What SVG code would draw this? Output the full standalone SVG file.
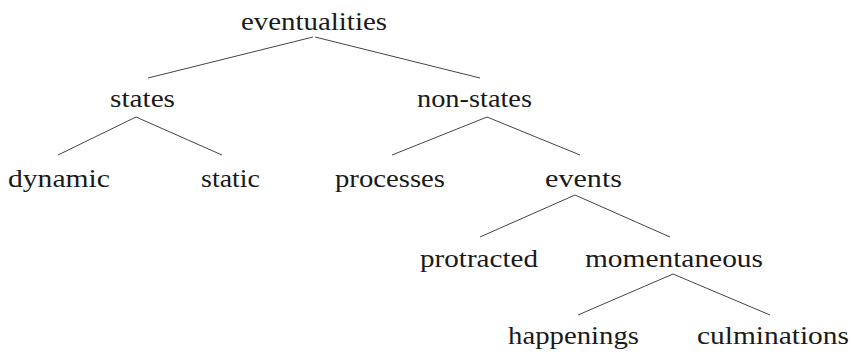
<svg xmlns="http://www.w3.org/2000/svg" width="851" height="354" viewBox="0 0 851 354">
<style>
text { font-family: "Liberation Serif", "DejaVu Serif", serif; font-size: 26px; fill: #1a1a1a; }
.c line { stroke: #444; stroke-width: 1; }
</style>
<rect width="851" height="354" fill="#fff"/>
<g class="c" id="connectors">
<line x1="313" y1="37" x2="148" y2="78"/>
<line x1="315" y1="37" x2="480" y2="78"/>
<line x1="136" y1="117" x2="58" y2="155"/>
<line x1="136" y1="117" x2="222" y2="155"/>
<line x1="487" y1="117" x2="392" y2="155"/>
<line x1="487" y1="117" x2="580" y2="155"/>
<line x1="575" y1="195" x2="480" y2="237"/>
<line x1="575" y1="195" x2="670" y2="237"/>
<line x1="673" y1="274" x2="578" y2="315"/>
<line x1="673" y1="274" x2="770" y2="315"/>
</g>
<g id="eventualities"><text x="241" y="30" textLength="146" lengthAdjust="spacingAndGlyphs">eventualities</text></g>
<g id="states"><text x="110" y="107" textLength="65" lengthAdjust="spacingAndGlyphs">states</text></g>
<g id="non-states"><text x="417" y="107" textLength="115" lengthAdjust="spacingAndGlyphs">non-states</text></g>
<g id="dynamic"><text x="8" y="187" textLength="102" lengthAdjust="spacingAndGlyphs">dynamic</text></g>
<g id="static"><text x="201" y="187" textLength="59" lengthAdjust="spacingAndGlyphs">static</text></g>
<g id="processes"><text x="335" y="187" textLength="110" lengthAdjust="spacingAndGlyphs">processes</text></g>
<g id="events"><text x="545" y="187" textLength="77" lengthAdjust="spacingAndGlyphs">events</text></g>
<g id="protracted"><text x="420" y="267" textLength="118" lengthAdjust="spacingAndGlyphs">protracted</text></g>
<g id="momentaneous"><text x="585" y="267" textLength="178" lengthAdjust="spacingAndGlyphs">momentaneous</text></g>
<g id="happenings"><text x="508" y="344" textLength="131" lengthAdjust="spacingAndGlyphs">happenings</text></g>
<g id="culminations"><text x="697" y="344" textLength="152" lengthAdjust="spacingAndGlyphs">culminations</text></g>
</svg>
